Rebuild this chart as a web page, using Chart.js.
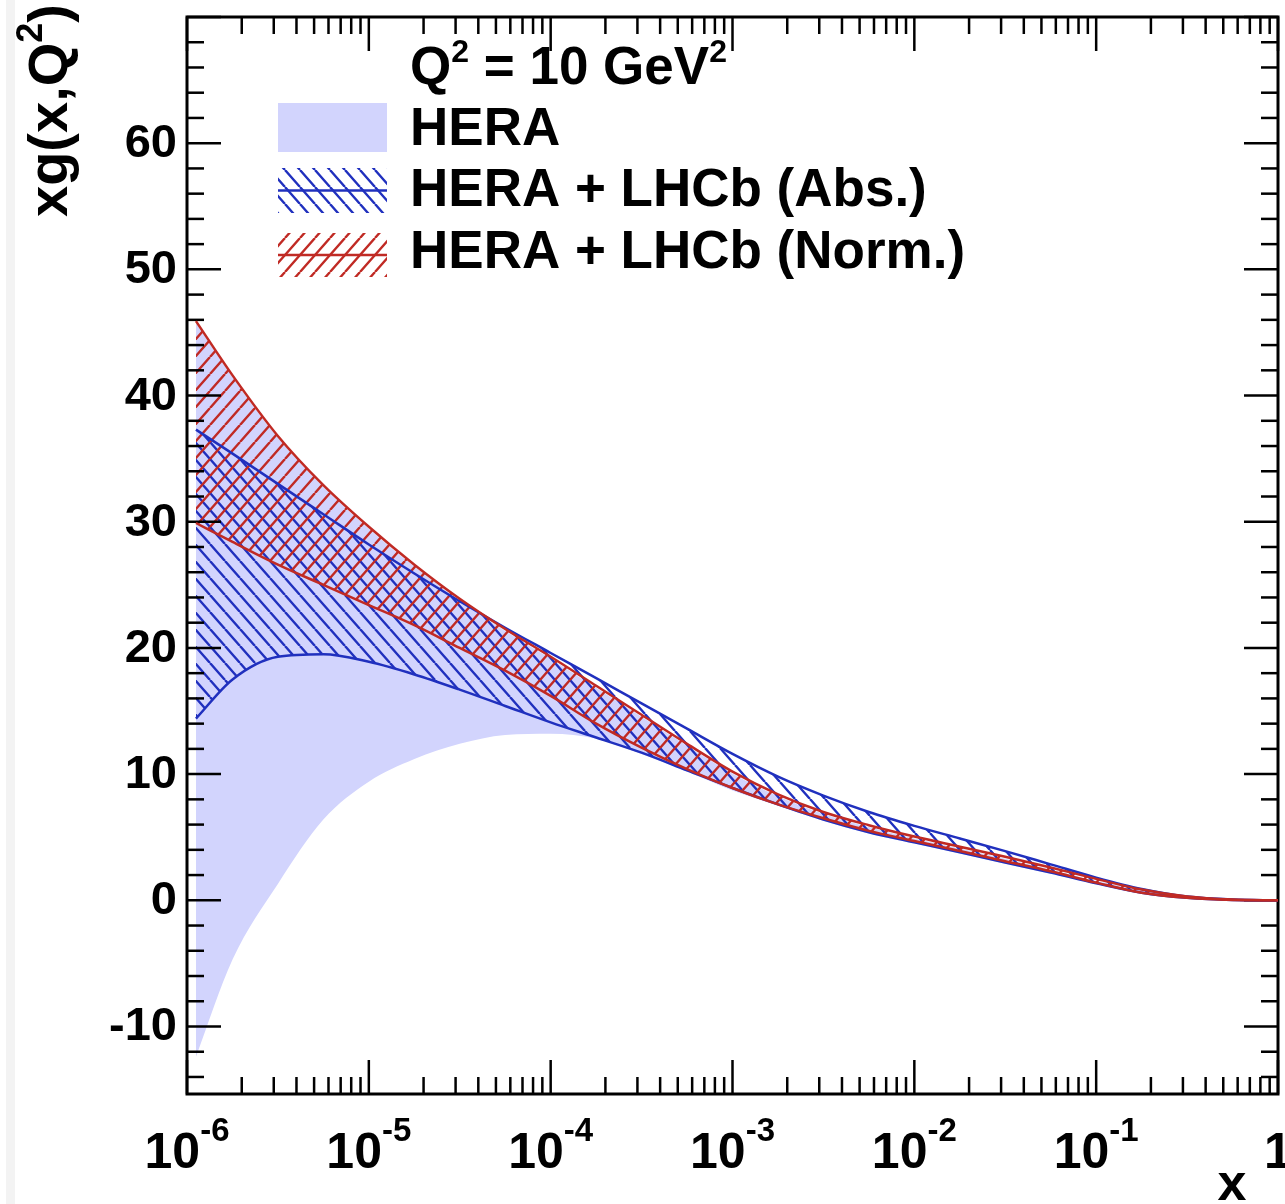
<!DOCTYPE html>
<html>
<head>
<meta charset="utf-8">
<title>xg(x,Q²) at Q² = 10 GeV²</title>
<script src="https://cdn.jsdelivr.net/npm/chart.js@4.4.1/dist/chart.umd.min.js"></script>
<style>
    html, body { margin: 0; padding: 0; background: #fff; }
    #wrap { position: relative; width: 1285px; height: 1204px; }
</style>
</head>
<body>
<div id="wrap"><canvas id="gluon" width="1285" height="1204"></canvas></div>
<script>
// x grid (about four points per decade)
const xPoints = [1.12e-6, 1.78e-6, 3.16e-6, 5.62e-6, 1e-5, 1.78e-5, 3.16e-5, 5.62e-5,
                 1e-4, 1.78e-4, 3.16e-4, 5.62e-4, 1e-3, 1.78e-3, 3.16e-3, 5.62e-3,
                 1e-2, 1.78e-2, 3.16e-2, 5.62e-2, 0.1, 0.178, 0.316, 0.562, 1];

// HERA-only fit band
const heraUpper = [45.75, 41.45, 36.65, 32.75, 29.45, 26.45, 23.75, 21.35, 19.15, 16.85, 14.55, 12.25, 10.05,
                   8.25, 6.85, 5.8, 4.9, 4.1, 3.3, 2.45, 1.55, 0.8, 0.27, 0.05, 0.0];
const heraLower = [-12.4, -4.7, 1.3, 6.4, 9.4, 11.2, 12.4, 13.1, 13.2, 12.8, 11.6, 10.2, 8.7,
                   7.5, 6.3, 5.3, 4.5, 3.7, 2.9, 2.1, 1.3, 0.55, 0.18, 0.02, 0.0];

// HERA + LHCb, absolute cross sections
const absUpper = [37.3, 35.4, 33.0, 30.6, 28.2, 25.9, 23.7, 21.6, 19.6, 17.6, 15.6, 13.6, 11.6,
                  9.8, 8.3, 7.0, 5.9, 4.9, 3.9, 2.85, 1.8, 0.9, 0.3, 0.06, 0.0];
const absLower = [14.4, 17.5, 19.3, 19.5, 18.9, 17.9, 16.7, 15.4, 14.1, 12.9, 11.7, 10.3, 8.9,
                  7.6, 6.4, 5.4, 4.6, 3.8, 3.0, 2.2, 1.35, 0.6, 0.2, 0.03, 0.0];

// HERA + LHCb, normalised cross sections
const normUpper = [45.9, 41.6, 36.8, 32.9, 29.6, 26.6, 23.9, 21.5, 19.3, 17.0, 14.7, 12.4, 10.2,
                   8.4, 7.0, 5.95, 5.05, 4.25, 3.45, 2.6, 1.7, 0.85, 0.3, 0.06, 0.0];
const normLower = [29.9, 28.4, 26.6, 25.0, 23.4, 21.8, 20.0, 18.2, 16.2, 14.0, 12.1, 10.4, 8.9,
                   7.6, 6.5, 5.5, 4.7, 3.9, 3.1, 2.3, 1.4, 0.6, 0.2, 0.03, 0.0];

const yTickLabels = [-10, 0, 10, 20, 30, 40, 50, 60];
const xTickExponents = [-6, -5, -4, -3, -2, -1, 0];
const legendLabels = ['HERA', 'HERA + LHCb (Abs.)', 'HERA + LHCb (Norm.)'];

const FONT = '"Liberation Sans", Arial, Helvetica, sans-serif';

class GluonPlot {
    constructor(canvasId) {
        this.canvas = document.getElementById(canvasId);
        this.ctx = this.canvas.getContext('2d');
        this.colors = {
            hera: 'rgb(210,212,253)',
            abs: 'rgb(32,48,190)',
            norm: 'rgb(192,42,36)'
        };
        this.absHatch = this.makeHatch(this.colors.abs, 'back');
        this.normHatch = this.makeHatch(this.colors.norm, 'forward');
        this.chart = this.initializeChart();
    }

    makeHatch(color, direction) {
        const w = 15, h = 17;
        const tile = document.createElement('canvas');
        tile.width = w;
        tile.height = h;
        const g = tile.getContext('2d');
        g.strokeStyle = color;
        g.lineWidth = 2.4;
        g.beginPath();
        for (let k = -1; k <= 1; k++) {
            if (direction === 'forward') {
                g.moveTo(k * w, h);
                g.lineTo(k * w + w, 0);
            } else {
                g.moveTo(k * w, 0);
                g.lineTo(k * w + w, h);
            }
        }
        g.stroke();
        return this.ctx.createPattern(tile, 'repeat');
    }

    toPoints(values) {
        return values.map((y, i) => ({ x: xPoints[i], y: y }));
    }

    edge(values, color, background) {
        return {
            data: this.toPoints(values),
            borderColor: color || 'transparent',
            borderWidth: color ? 2.5 : 0,
            fill: background ? '+1' : false,
            backgroundColor: background || 'transparent',
            pointRadius: 0,
            cubicInterpolationMode: 'monotone'
        };
    }

    initializeChart() {
        const plot = this;
        return new Chart(this.ctx, {
            type: 'line',
            data: {
                // first dataset is painted last, so the Norm. band sits on top
                datasets: [
                    this.edge(normUpper, this.colors.norm, this.normHatch),
                    this.edge(normLower, this.colors.norm),
                    this.edge(absUpper, this.colors.abs, this.absHatch),
                    this.edge(absLower, this.colors.abs),
                    this.edge(heraUpper, null, this.colors.hera),
                    this.edge(heraLower, null)
                ]
            },
            options: {
                responsive: false,
                animation: false,
                layout: { padding: { left: 187, top: 17, right: 7, bottom: 110 } },
                plugins: {
                    legend: { display: false },
                    tooltip: { enabled: false },
                    filler: { drawTime: 'beforeDatasetsDraw', propagate: false }
                },
                scales: {
                    x: { type: 'logarithmic', min: 1e-6, max: 1, display: false },
                    y: { type: 'linear', min: -15.35, max: 70, display: false }
                }
            },
            plugins: [{
                id: 'rootStyle',
                beforeDraw(chart) { plot.drawBackground(chart); },
                // ticks and frame go under the bands, as in ROOT
                beforeDatasetsDraw(chart) { plot.drawFrame(chart); },
                afterDraw(chart) {
                    plot.drawTickLabels(chart);
                    plot.drawTitles();
                    plot.drawLegend();
                }
            }]
        });
    }

    drawBackground(chart) {
        const ctx = chart.ctx;
        ctx.save();
        ctx.fillStyle = '#fff';
        ctx.fillRect(0, 0, chart.width, chart.height);
        ctx.fillStyle = '#f3f3f3';
        ctx.fillRect(6, 0, 9, chart.height);
        ctx.restore();
    }

    tick(x1, y1, x2, y2) {
        this.ctx.beginPath();
        this.ctx.moveTo(x1, y1);
        this.ctx.lineTo(x2, y2);
        this.ctx.stroke();
    }

    drawFrame(chart) {
        const ctx = this.ctx;
        const a = chart.chartArea;
        const xs = chart.scales.x;
        const ys = chart.scales.y;
        ctx.save();
        ctx.strokeStyle = '#000';
        ctx.lineWidth = 2.5;

        xTickExponents.forEach(e => {
            for (let m = 1; m <= 9; m++) {
                const v = m * Math.pow(10, e);
                if (v > 1) break;
                const px = xs.getPixelForValue(v);
                const len = m === 1 ? 34 : 17;
                this.tick(px, a.bottom, px, a.bottom - len);
                this.tick(px, a.top, px, a.top + len);
            }
        });

        for (let v = -14; v <= 70; v += 2) {
            const py = ys.getPixelForValue(v);
            const len = v % 10 === 0 ? 34 : 17;
            this.tick(a.left, py, a.left + len, py);
            this.tick(a.right, py, a.right - len, py);
        }

        ctx.lineWidth = 3;
        ctx.strokeRect(a.left, a.top, a.right - a.left, a.bottom - a.top);
        ctx.restore();
    }

    drawRich(parts, x, y, align) {
        const ctx = this.ctx;
        let width = 0;
        parts.forEach(p => {
            ctx.font = p.font;
            width += ctx.measureText(p.text).width;
        });
        let cx = align === 'center' ? x - width / 2 : (align === 'right' ? x - width : x);
        ctx.textAlign = 'left';
        ctx.textBaseline = 'alphabetic';
        parts.forEach(p => {
            ctx.font = p.font;
            ctx.fillText(p.text, cx, y - (p.rise || 0));
            cx += ctx.measureText(p.text).width;
        });
    }

    drawTickLabels(chart) {
        const ctx = this.ctx;
        const a = chart.chartArea;
        ctx.save();
        ctx.fillStyle = '#000';

        ctx.font = 'bold 47px ' + FONT;
        ctx.textAlign = 'right';
        ctx.textBaseline = 'middle';
        yTickLabels.forEach(v => {
            ctx.fillText(String(v), a.left - 10, chart.scales.y.getPixelForValue(v) + 1);
        });

        const big = 'bold 50px ' + FONT;
        const sup = 'bold 33px ' + FONT;
        xTickExponents.forEach(e => {
            const px = chart.scales.x.getPixelForValue(Math.pow(10, e));
            const parts = e === 0
                ? [{ text: '1', font: big }]
                : [{ text: '10', font: big }, { text: String(e), font: sup, rise: 27 }];
            this.drawRich(parts, px, 1168, 'center');
        });
        ctx.restore();
    }

    drawTitles() {
        const ctx = this.ctx;
        ctx.save();
        ctx.fillStyle = '#000';

        ctx.font = 'bold 52px ' + FONT;
        ctx.textAlign = 'center';
        ctx.textBaseline = 'alphabetic';
        ctx.fillText('x', 1232, 1200);

        ctx.translate(67, 217);
        ctx.rotate(-Math.PI / 2);
        this.drawRich([
            { text: 'xg(x,Q', font: 'bold 56px ' + FONT },
            { text: '2', font: 'bold 36px ' + FONT, rise: 25 },
            { text: ')', font: 'bold 56px ' + FONT }
        ], 0, 0, 'left');
        ctx.restore();
    }

    drawLegend() {
        const ctx = this.ctx;
        const big = 'bold 53px ' + FONT;
        const sup = 'bold 32px ' + FONT;
        const boxX = 278, boxW = 109, textX = 410;
        ctx.save();
        ctx.fillStyle = '#000';
        this.drawRich([
            { text: 'Q', font: big },
            { text: '2', font: sup, rise: 22 },
            { text: ' = 10 GeV', font: big },
            { text: '2', font: sup, rise: 22 }
        ], textX, 84, 'left');

        // HERA: plain fill
        ctx.fillStyle = this.colors.hera;
        ctx.fillRect(boxX, 103, boxW, 49);

        // hatched bands with their edge line through the middle
        const hatched = [
            { pattern: this.absHatch, color: this.colors.abs, top: 168, h: 45 },
            { pattern: this.normHatch, color: this.colors.norm, top: 233, h: 44 }
        ];
        hatched.forEach(s => {
            ctx.fillStyle = s.pattern;
            ctx.fillRect(boxX, s.top, boxW, s.h);
            ctx.strokeStyle = s.color;
            ctx.lineWidth = 2.5;
            this.tick(boxX, s.top + s.h / 2, boxX + boxW, s.top + s.h / 2);
        });

        ctx.fillStyle = '#000';
        ctx.font = big;
        ctx.textAlign = 'left';
        ctx.textBaseline = 'alphabetic';
        const baselines = [145, 206, 268];
        legendLabels.forEach((label, i) => ctx.fillText(label, textX, baselines[i]));
        ctx.restore();
    }
}

const plot = new GluonPlot('gluon');
</script>
</body>
</html>
